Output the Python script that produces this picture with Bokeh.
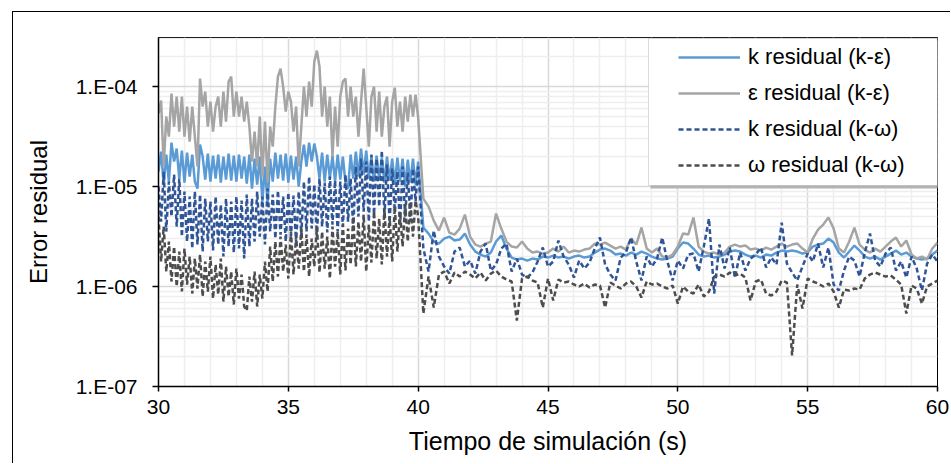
import numpy as np
from bokeh.plotting import figure
from bokeh.models import Range1d, FixedTicker, BoxAnnotation, Legend, LegendItem
from bokeh.embed import file_html
from bokeh.resources import INLINE

# ---------------- data (residuals stored as log10 values) ----------------
TIME_A = np.round(np.arange(300, 401) * 0.1, 1)   # 30.0 .. 40.0 s
TIME_B = np.round(np.arange(201, 301) * 0.2, 1)   # 40.2 .. 60.0 s

K_KE_A = [-4.85, -4.65, -4.98, -4.68, -4.95, -4.56, -4.75, -4.62, -4.92, -4.64,
          -4.96, -4.66, -4.90, -4.68, -4.95, -5.02, -4.58, -4.70, -4.93, -4.67,
          -4.95, -4.69, -4.92, -4.68, -4.96, -4.70, -4.93, -4.67, -4.94, -4.69,
          -4.95, -4.68, -4.92, -4.70, -4.97, -4.68, -5.02, -4.72, -4.98, -4.70,
          -5.15, -4.80, -5.17, -4.72, -4.95, -4.66, -4.92, -4.68, -4.94, -4.67,
          -4.96, -4.69, -4.93, -4.70, -5.00, -4.75, -4.58, -4.80, -4.56, -4.75,
          -4.57, -4.70, -4.92, -4.66, -4.95, -4.68, -4.92, -4.69, -4.95, -4.68,
          -4.93, -4.70, -4.96, -5.02, -4.68, -4.92, -4.65, -4.90, -4.62, -4.88,
          -4.64, -4.92, -4.70, -4.95, -4.69, -4.93, -4.71, -4.96, -4.70, -4.94,
          -4.72, -4.98, -4.71, -4.95, -4.72, -5.00, -4.73, -4.96, -4.72, -4.98,
          -4.75]
K_KE_B = [-5.41, -5.47, -5.55, -5.57, -5.52, -5.50, -5.54, -5.53, -5.47, -5.58,
          -5.65, -5.68, -5.70, -5.66, -5.55, -5.49, -5.62, -5.71, -5.73, -5.72,
          -5.74, -5.72, -5.73, -5.70, -5.71, -5.69, -5.71, -5.70, -5.72, -5.70,
          -5.69, -5.71, -5.70, -5.66, -5.63, -5.62, -5.64, -5.68, -5.67, -5.69,
          -5.66, -5.68, -5.65, -5.67, -5.70, -5.72, -5.73, -5.72, -5.70, -5.62,
          -5.56, -5.57, -5.62, -5.68, -5.70, -5.69, -5.71, -5.70, -5.68, -5.65,
          -5.64, -5.65, -5.68, -5.70, -5.69, -5.71, -5.68, -5.69, -5.66, -5.64,
          -5.65, -5.64, -5.65, -5.67, -5.66, -5.60, -5.58, -5.57, -5.52, -5.56,
          -5.66, -5.71, -5.65, -5.59, -5.64, -5.70, -5.72, -5.70, -5.73, -5.70,
          -5.67, -5.64, -5.68, -5.66, -5.70, -5.72, -5.73, -5.72, -5.68, -5.64]

EPS_KE_A = [-4.27, -4.14, -4.80, -4.30, -4.50, -4.07, -4.40, -4.10, -4.45, -4.10,
            -4.50, -4.20, -4.55, -4.20, -4.50, -4.80, -3.92, -4.20, -4.05, -4.40,
            -4.15, -4.45, -4.20, -4.10, -4.40, -4.05, -4.35, -3.95, -3.90, -4.30,
            -4.05, -4.30, -4.10, -4.35, -4.15, -4.40, -4.75, -4.45, -4.80, -4.30,
            -4.90, -4.35, -4.95, -4.40, -4.60, -4.20, -3.90, -3.82, -4.00, -4.25,
            -4.05, -4.15, -4.45, -4.20, -4.80, -4.40, -4.00, -4.30, -3.95, -4.20,
            -3.75, -3.64, -3.80, -4.30, -4.00, -4.40, -4.10, -4.70, -4.20, -4.60,
            -4.10, -3.95, -3.92, -4.30, -4.00, -4.30, -4.10, -4.50, -4.15, -3.82,
            -4.20, -4.60, -4.10, -4.00, -4.45, -4.05, -4.50, -4.20, -4.10, -4.60,
            -4.15, -4.01, -4.40, -4.15, -4.45, -4.10, -4.35, -4.08, -4.30, -4.08,
            -4.31]
EPS_KE_B = [-5.12, -5.20, -5.34, -5.44, -5.31, -5.46, -5.48, -5.42, -5.28, -5.50,
            -5.58, -5.60, -5.57, -5.55, -5.27, -5.42, -5.55, -5.60, -5.61, -5.55,
            -5.62, -5.66, -5.65, -5.67, -5.66, -5.62, -5.65, -5.60, -5.66, -5.64,
            -5.65, -5.63, -5.62, -5.57, -5.58, -5.56, -5.59, -5.62, -5.60, -5.63,
            -5.52, -5.58, -5.41, -5.62, -5.66, -5.62, -5.70, -5.71, -5.68, -5.60,
            -5.47, -5.48, -5.31, -5.60, -5.65, -5.67, -5.66, -5.68, -5.66, -5.60,
            -5.58, -5.60, -5.59, -5.63, -5.62, -5.64, -5.61, -5.63, -5.60, -5.57,
            -5.60, -5.58, -5.57, -5.62, -5.66, -5.52, -5.43, -5.38, -5.31, -5.42,
            -5.62, -5.66, -5.55, -5.41, -5.58, -5.63, -5.66, -5.62, -5.65, -5.60,
            -5.55, -5.51, -5.60, -5.54, -5.68, -5.72, -5.70, -5.73, -5.62, -5.56]

K_KW_A = [-5.00, -5.35, -4.85, -5.45, -4.95, -5.30, -4.88, -5.40, -4.92, -5.50,
          -5.05, -5.55, -5.10, -5.62, -5.05, -5.58, -5.08, -5.65, -5.12, -5.55,
          -5.15, -5.64, -5.10, -5.58, -5.18, -5.70, -5.12, -5.60, -5.15, -5.66,
          -5.10, -5.62, -5.14, -5.72, -5.08, -5.60, -5.12, -5.55, -5.05, -5.50,
          -5.10, -5.58, -5.02, -5.45, -5.08, -5.52, -5.04, -5.48, -5.10, -5.55,
          -5.06, -5.50, -5.09, -5.56, -5.05, -5.48, -4.95, -5.45, -4.90, -5.42,
          -4.98, -5.50, -4.92, -5.40, -4.96, -5.46, -4.90, -5.38, -4.94, -5.45,
          -4.95, -5.40, -4.88, -5.35, -4.92, -5.42, -4.80, -5.30, -4.72, -5.25,
          -4.75, -5.35, -4.68, -5.28, -4.72, -5.20, -4.64, -5.30, -4.78, -5.36,
          -4.82, -5.25, -4.85, -5.40, -4.80, -5.30, -4.86, -5.35, -4.82, -5.15,
          -4.80]
K_KW_B = [-5.62, -5.85, -5.44, -5.70, -5.80, -5.87, -5.65, -5.61, -5.80, -5.74,
          -5.87, -5.65, -5.57, -5.84, -5.78, -5.62, -5.57, -5.85, -5.72, -5.88,
          -5.91, -5.86, -5.75, -5.61, -5.80, -5.75, -5.54, -5.70, -5.78, -5.91,
          -5.74, -5.82, -5.76, -5.62, -5.51, -5.78, -5.88, -5.94, -5.71, -5.66,
          -5.51, -5.75, -5.94, -5.70, -5.80, -5.72, -5.51, -5.75, -5.94, -5.74,
          -5.82, -5.68, -5.67, -5.85, -5.60, -5.32, -6.07, -5.58, -5.82, -5.61,
          -5.91, -5.66, -5.84, -5.72, -5.68, -5.61, -5.81, -5.71, -5.78, -5.36,
          -5.77, -5.86, -5.94, -5.80, -5.67, -5.75, -5.57, -5.81, -5.61, -5.98,
          -6.04, -5.84, -5.70, -5.74, -5.90, -5.66, -5.47, -5.74, -5.80, -5.67,
          -5.61, -5.84, -5.75, -5.91, -5.70, -5.82, -6.04, -5.77, -5.68, -5.75]

W_KW_A = [-5.30, -5.75, -5.40, -5.85, -5.55, -5.95, -5.60, -6.00, -5.65, -6.05,
          -5.62, -5.98, -5.70, -6.07, -5.72, -6.02, -5.68, -6.10, -5.75, -6.05,
          -5.70, -6.12, -5.78, -6.08, -5.72, -6.15, -5.80, -6.10, -5.85, -6.18,
          -5.82, -6.12, -5.88, -6.20, -6.24, -5.90, -6.15, -5.85, -6.20, -5.88,
          -6.12, -5.75, -6.05, -5.60, -5.95, -5.55, -5.90, -5.50, -5.85, -5.58,
          -5.92, -5.45, -5.88, -5.50, -5.82, -5.42, -5.85, -5.48, -5.90, -5.52,
          -5.80, -5.40, -5.86, -5.45, -5.82, -5.50, -5.92, -5.40, -5.80, -5.45,
          -5.88, -5.38, -5.84, -5.42, -5.78, -5.30, -5.80, -5.35, -5.75, -5.28,
          -5.85, -5.38, -5.76, -5.25, -5.72, -5.32, -5.78, -5.22, -5.70, -5.30,
          -5.75, -5.20, -5.65, -5.25, -5.60, -5.18, -5.55, -5.15, -5.50, -5.14,
          -5.30]
W_KW_B = [-6.27, -5.90, -6.21, -5.88, -5.85, -5.97, -5.86, -5.90, -5.85, -5.88,
          -5.92, -5.86, -5.94, -5.87, -5.84, -5.90, -5.93, -5.95, -6.34, -5.92,
          -5.90, -5.94, -5.96, -6.21, -5.92, -6.14, -5.93, -5.96, -5.95, -5.98,
          -6.00, -5.97, -6.01, -5.98, -5.99, -6.21, -5.96, -5.99, -6.02, -5.97,
          -5.95, -6.00, -6.11, -5.95, -5.98, -5.97, -6.00, -6.02, -5.99, -6.17,
          -6.00, -6.05, -6.07, -5.98, -6.10, -6.05, -5.90, -5.88, -5.90, -5.86,
          -5.89, -5.87, -5.91, -6.14, -5.95, -5.93, -6.07, -6.09, -6.05, -5.94,
          -5.96, -6.69, -5.98, -6.22, -5.92, -5.95, -5.97, -6.00, -5.97, -6.05,
          -6.21, -6.03, -6.04, -6.02, -6.03, -5.92, -5.88, -5.86, -5.88, -5.90,
          -5.89, -5.93, -5.98, -6.27, -5.99, -6.02, -6.17, -6.00, -5.97, -5.94]

SERIES_LABELS = ["k residual (k-\u03b5)", "\u03b5 residual (k-\u03b5)",
                 "k residual (k-\u03c9)", "\u03c9 residual (k-\u03c9)"]
X_TICKS = [30, 35, 40, 45, 50, 55, 60]
X_MINOR = [31, 32, 33, 34, 36, 37, 38, 39, 41, 42, 43, 44, 46, 47, 48, 49,
           51, 52, 53, 54, 56, 57, 58, 59]
Y_TICKS = [1e-7, 1e-6, 1e-5, 1e-4]
Y_TICK_LABELS = ["1.E-07", "1.E-06", "1.E-05", "1.E-04"]
Y_MINOR = [k * 10.0 ** e for e in (-7, -6, -5, -4) for k in range(2, 10)
           if k * 10.0 ** e < 3.1e-4]

# ---------------- figure ----------------
FONT = "Liberation Sans"
W, H = 938, 452

p = figure(width=W, height=H, x_range=Range1d(30, 60), y_range=Range1d(1e-7, 3.1e-4),
           y_axis_type="log", output_backend="svg", toolbar_location=None,
           min_border_left=145, min_border_right=14, min_border_top=25,
           min_border_bottom=78)
p.styles = {"margin-left": "12px", "margin-top": "11px",
            "border-left": "1px solid black", "border-top": "1px solid black"}
p.background_fill_color = "white"
p.border_fill_color = "white"
p.outline_line_color = "black"
p.outline_line_width = 1

p.xaxis.ticker = FixedTicker(ticks=X_TICKS, minor_ticks=X_MINOR)
p.yaxis.ticker = FixedTicker(ticks=Y_TICKS, minor_ticks=Y_MINOR)
p.yaxis.major_label_overrides = dict(zip(Y_TICKS, Y_TICK_LABELS))

for g in (p.xgrid, p.ygrid):
    g.grid_line_color = "#D9D9D9"
    g.grid_line_width = 1.5
    g.minor_grid_line_color = "#EEEEEE"
    g.minor_grid_line_width = 1.5

for ax in (p.xaxis, p.yaxis):
    ax.axis_line_color = "black"
    ax.axis_line_width = 1.5
    ax.major_tick_line_color = "black"
    ax.major_tick_line_width = 1.5
    ax.major_tick_in = 0
    ax.minor_tick_line_color = None
    ax.major_label_text_font = FONT
    ax.major_label_text_font_size = "21px"
    ax.major_label_text_color = "black"
    ax.axis_label_text_font = FONT
    ax.axis_label_text_font_style = "normal"
    ax.axis_label_text_color = "black"

p.xaxis.major_tick_out = 5
p.xaxis.major_label_standoff = 8
p.xaxis.axis_label = "Tiempo de simulaci\u00f3n (s)"
p.xaxis.axis_label_text_font_size = "25px"
p.xaxis.axis_label_standoff = 10
p.yaxis.major_tick_out = 6
p.yaxis.major_label_standoff = 15
p.yaxis.axis_label = "Error residual"
p.yaxis.axis_label_text_font_size = "24px"
p.yaxis.axis_label_standoff = 21

x = np.concatenate([TIME_A, TIME_B])
styles = [
    (K_KE_A, K_KE_B, "#5B9BD5", "solid"),
    (EPS_KE_A, EPS_KE_B, "#A5A5A5", "solid"),
    (K_KW_A, K_KW_B, "#2F5597", "5 3"),
    (W_KW_A, W_KW_B, "#4D4D4D", "5 3"),
]
renderers = []
for a, b, color, dash in styles:
    y = 10.0 ** np.concatenate([np.array(a), np.array(b)])
    r = p.line(x, y, line_color=color, line_width=2.5, line_dash=dash)
    renderers.append(r)

# legend box (shadow + white box), canvas units measured from canvas top-left
shadow = BoxAnnotation(left=636, right=926, top=27, bottom=175,
                       left_units="canvas", right_units="canvas",
                       top_units="canvas", bottom_units="canvas",
                       fill_color="#B3B3B3", fill_alpha=1, line_alpha=0)
box = BoxAnnotation(left=634, right=923, top=25, bottom=172,
                    left_units="canvas", right_units="canvas",
                    top_units="canvas", bottom_units="canvas",
                    fill_color="white", fill_alpha=1, line_color="#8C8C8C",
                    line_width=1)
p.add_layout(shadow)
p.add_layout(box)

items = [LegendItem(label=lab, renderers=[r]) for lab, r in zip(SERIES_LABELS, renderers)]
legend = Legend(items=items, location=(512, 200), orientation="vertical",
                padding=8, spacing=10, glyph_width=62, glyph_height=24,
                label_height=24, label_standoff=8, margin=0,
                label_text_font=FONT, label_text_font_size="22px",
                label_text_color="black",
                border_line_alpha=0, background_fill_alpha=0)
p.add_layout(legend, "center")

open("out.html", "w").write(file_html(p, INLINE))
